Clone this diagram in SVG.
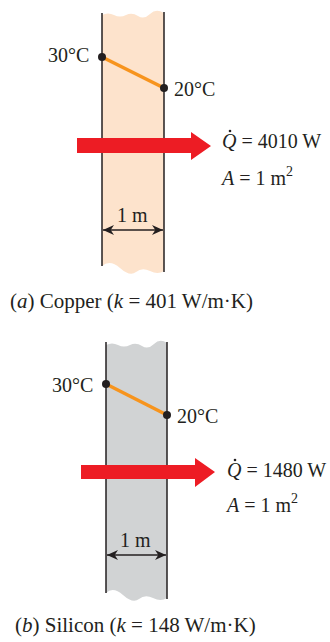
<svg xmlns="http://www.w3.org/2000/svg" width="330" height="642" viewBox="0 0 330 642">
<style>
text{font-family:"Liberation Serif","Times New Roman",serif;font-size:20px;fill:#231f20}
.cap{font-size:21px}
.wall{stroke:#231f20;stroke-width:1.5;fill:none}
.grad{stroke:#f7941d;stroke-width:3.5;fill:none}
.dot{fill:#231f20}
.heat{fill:#ed1c24}
.dim{stroke:#231f20;stroke-width:1.3;fill:none}
.it{font-style:italic}
</style>
<defs>
<marker id="ah" viewBox="0 0 10 10" refX="10" refY="5" markerWidth="11" markerHeight="10" orient="auto-start-reverse" markerUnits="userSpaceOnUse" preserveAspectRatio="none">
<path d="M0,0 L10,5 L0,10 L3,5 Z" fill="#231f20"/>
</marker>
</defs>
<g id="copper">
<path d="M102,15 Q108,12 114,15 T126,15 T138,16 T150,14 T164,13 L164,271 Q158,275 150,271 T136,272 T120,268 T102,266 Z" fill="#fde3cc"/>
<line class="wall" x1="102" y1="13" x2="102" y2="266"/>
<line class="wall" x1="164" y1="12" x2="164" y2="272"/>
<line class="grad" x1="102" y1="57" x2="164" y2="88"/>
<circle class="dot" cx="102" cy="57" r="4"/>
<circle class="dot" cx="164" cy="88" r="4"/>
<text x="48" y="62">30°C</text>
<text x="174" y="96">20°C</text>
<path class="heat" d="M77,138 L191,138 L191,132 L211,146 L191,160 L191,153 L77,153 Z"/>
<text x="222" y="148"><tspan class="it">Q</tspan> = 4010 W</text>
<circle class="dot" cx="230" cy="131" r="1.3"/>
<text x="222" y="185"><tspan class="it">A</tspan> = 1 m<tspan font-size="14" dy="-9">2</tspan></text>
<text x="117" y="222">1 m</text>
<text class="cap" x="10" y="308">(<tspan class="it">a</tspan>) Copper (<tspan class="it">k</tspan> = 401 W/m·K)</text>
</g>
<g id="silicon">
<path d="M106,345 Q112,342 118,345 T130,345 T142,346 T154,344 T167,343 L167,598 Q161,602 153,598 T139,599 T123,595 T106,593 Z" fill="#d1d3d4"/>
<line class="wall" x1="106" y1="342" x2="106" y2="593"/>
<line class="wall" x1="167" y1="342" x2="167" y2="599"/>
<line class="grad" x1="106" y1="384" x2="167" y2="415"/>
<circle class="dot" cx="106" cy="384" r="4"/>
<circle class="dot" cx="167" cy="415" r="4"/>
<text x="52" y="392">30°C</text>
<text x="177" y="423">20°C</text>
<path class="heat" d="M81,465 L195,465 L195,458 L215,472 L195,487 L195,479 L81,479 Z"/>
<text x="227" y="477"><tspan class="it">Q</tspan> = 1480 W</text>
<circle class="dot" cx="235" cy="460" r="1.3"/>
<text x="227" y="512"><tspan class="it">A</tspan> = 1 m<tspan font-size="14" dy="-9">2</tspan></text>
<text x="120" y="547">1 m</text>
<text class="cap" x="15" y="632">(<tspan class="it">b</tspan>) Silicon (<tspan class="it">k</tspan> = 148 W/m·K)</text>
</g>
<g id="connectors">
<line class="dim" x1="103" y1="230" x2="163" y2="230" marker-start="url(#ah)" marker-end="url(#ah)"/>
<line class="dim" x1="107" y1="555" x2="166" y2="555" marker-start="url(#ah)" marker-end="url(#ah)"/>
</g>
</svg>
